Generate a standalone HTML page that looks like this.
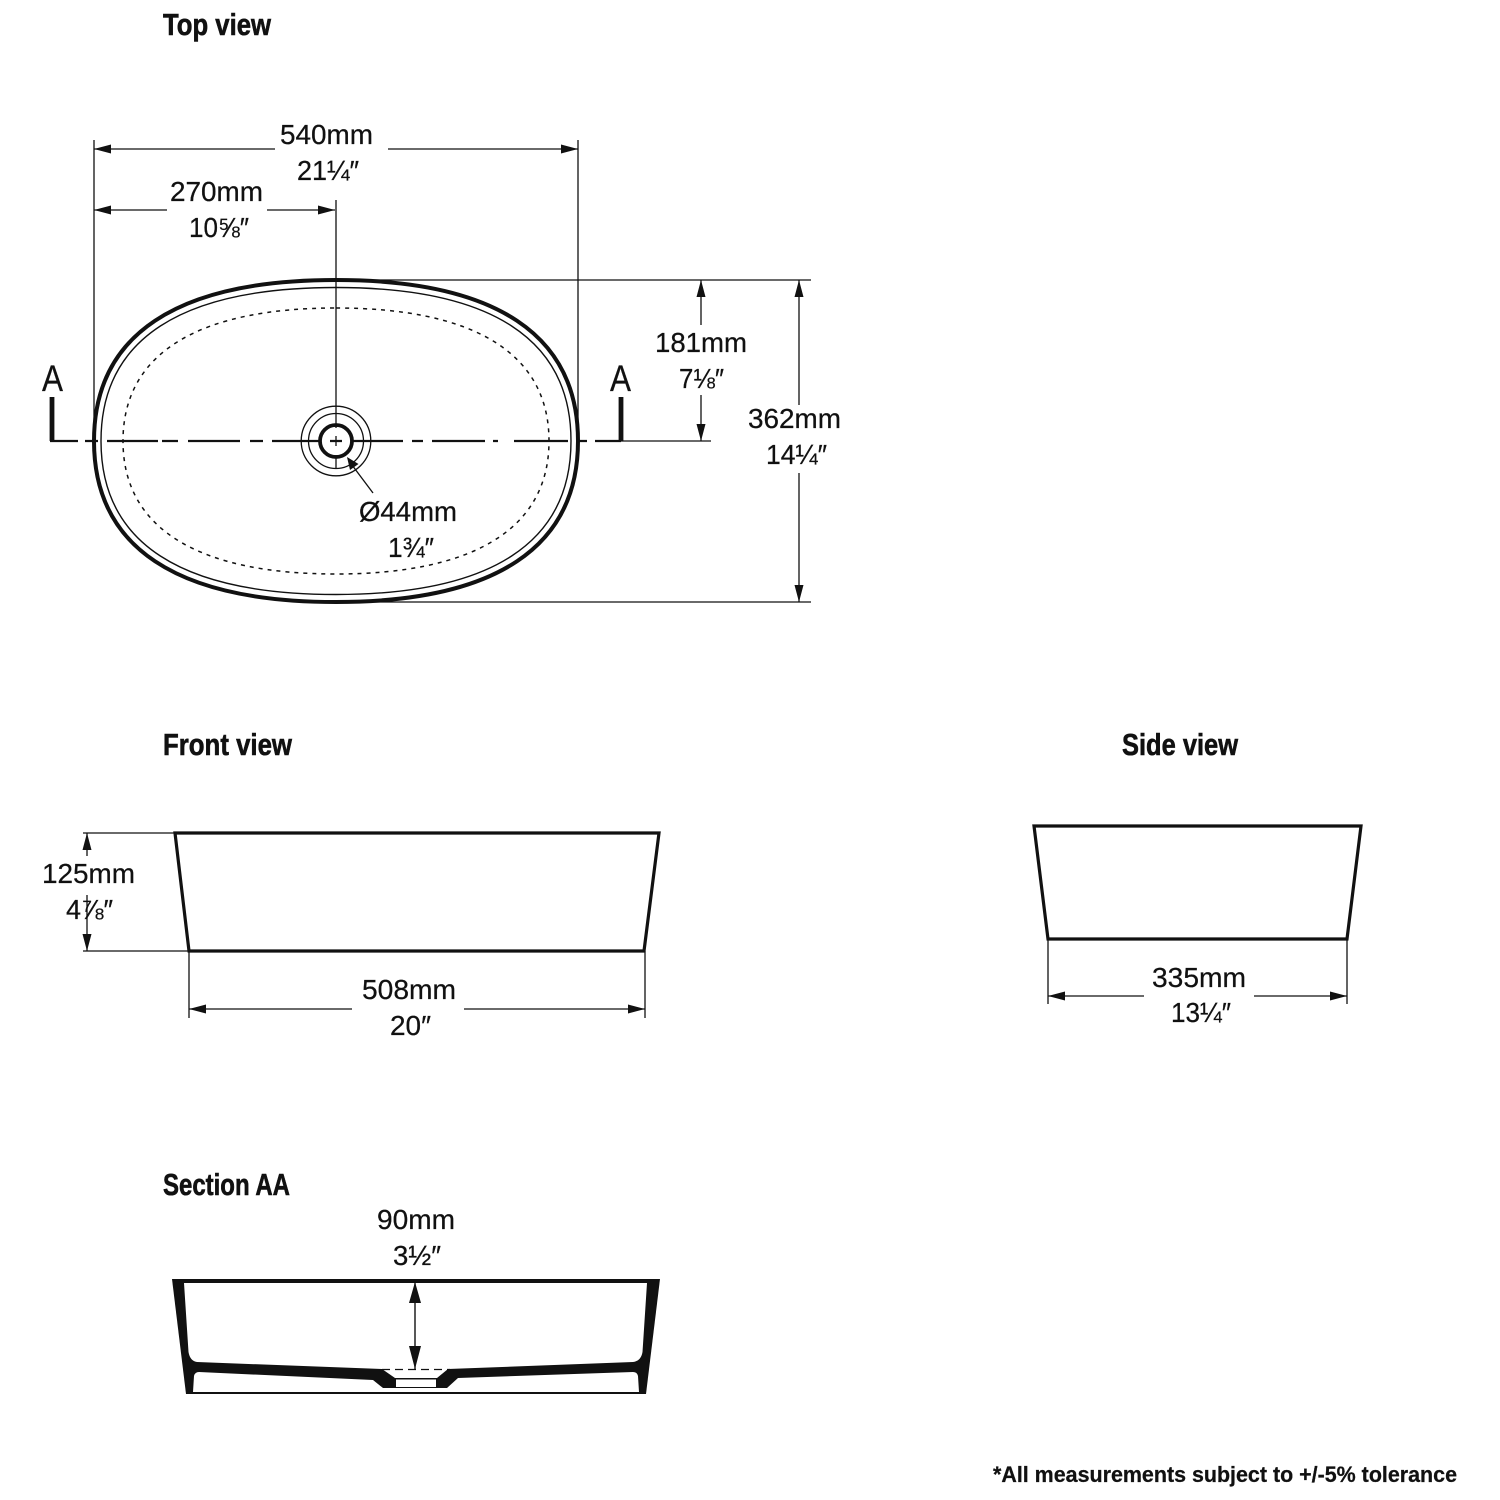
<!DOCTYPE html>
<html><head><meta charset="utf-8"><style>
html,body{margin:0;padding:0;background:#fff}
svg{display:block}
text{font-family:"Liberation Sans",sans-serif;fill:#111;font-size:28px;stroke:#111;stroke-width:.25px}
.h{font-weight:bold;font-size:31px;stroke-width:.6px}
</style></head><body>
<svg width="1500" height="1500" viewBox="0 0 1500 1500" xmlns="http://www.w3.org/2000/svg">
<rect width="1500" height="1500" fill="#fff"/>

<g fill="none" stroke="#111">
<path d="M336 280C496 280 578 335 578 441C578 547 496 602 336 602C176 602 94 547 94 441C94 335 176 280 336 280Z" stroke-width="4"/>
<path d="M336 287.500C491 287.500 571 339 571 441C571 543 491 594.500 336 594.500C181 594.500 101 543 101 441C101 339 181 287.500 336 287.500Z" stroke-width="1.400"/>
<path d="M336 308C470 308 549 351 549 441C549 531 470 574 336 574C202 574 123 531 123 441C123 351 202 308 336 308Z" stroke-width="1.500" stroke-dasharray="4 5"/>
<circle cx="336" cy="441" r="34.800" stroke-width="1.300"/>
<circle cx="336" cy="441" r="27.500" stroke-width="1.300"/>
<circle cx="336" cy="441" r="16" stroke-width="3.800"/>

<g stroke-width="1.300">
<path d="M94 140V441M578 140V441M336 200V428M336 436V446M336 455V468"/>
<path d="M336 280H811M336 602H811M621 441H711"/>
<path d="M94 149H275M388 149H578" />
<path d="M94 210H167M267 210H335"/>
<path d="M701 280V325M701 395V441M799 280V405M799 473V602"/>
<path d="M373 493L349 461"/>
</g>
<path d="M52 397V441" stroke-width="4.800"/>
<path d="M621 397V441" stroke-width="4.800"/>
<path d="M50 441H78M85 441H98M107 441H158M162 441H178M188 441H240M250 441H263M272 441H320M330 441H342M352 441H403M412 441H423M432 441H485M493 441H498M514 441H568M577 441H587M595 441H621" stroke-width="2.200"/>
</g>
<g fill="#111">
<path d="M94 149l17-4.500v9zM578 149l-17-4.500v9zM94 210l17-4.500v9zM335 210l-17-4.500v9z"/>
<path d="M701 280l-4.500 17h9zM701 441l-4.500-17h9zM799 280l-4.500 17h9zM799 602l-4.500-17h9z"/>
<path d="M347 457L350 470L358.500 464z"/>
</g>

<text x="163" y="35" class="h" textLength="108" lengthAdjust="spacingAndGlyphs">Top view</text>
<text x="280" y="144" textLength="93" lengthAdjust="spacingAndGlyphs">540mm</text>
<text x="297" y="180" textLength="62" lengthAdjust="spacingAndGlyphs">21¼″</text>
<text x="170" y="201" textLength="93" lengthAdjust="spacingAndGlyphs">270mm</text>
<text x="189" y="237" textLength="60" lengthAdjust="spacingAndGlyphs">10⅝″</text>
<text x="655" y="352" textLength="92" lengthAdjust="spacingAndGlyphs">181mm</text>
<text x="679" y="388" textLength="45" lengthAdjust="spacingAndGlyphs">7⅛″</text>
<text x="748" y="428" textLength="93" lengthAdjust="spacingAndGlyphs">362mm</text>
<text x="766" y="464" textLength="61" lengthAdjust="spacingAndGlyphs">14¼″</text>
<text x="359" y="521" textLength="98" lengthAdjust="spacingAndGlyphs">Ø44mm</text>
<text x="388" y="557" textLength="46" lengthAdjust="spacingAndGlyphs">1¾″</text>
<text x="42" y="391" style="font-size:37px" textLength="21" lengthAdjust="spacingAndGlyphs">A</text>
<text x="610" y="391" style="font-size:37px" textLength="21" lengthAdjust="spacingAndGlyphs">A</text>

<text x="163" y="755" class="h" textLength="129" lengthAdjust="spacingAndGlyphs">Front view</text>
<path d="M175 833H659L644 951H189Z" fill="none" stroke="#111" stroke-width="3.200"/>
<g fill="none" stroke="#111" stroke-width="1.300">
<path d="M83 833H175M83 951H189M87 833V856M87 895V951"/>
<path d="M189 951V1018M645 951V1018M189 1009H352M464 1009H645"/>
</g>
<g fill="#111">
<path d="M87 833l-4.500 17h9zM87 951l-4.500-17h9zM189 1009l17-4.500v9zM645 1009l-17-4.500v9z"/>
</g>
<text x="42" y="883" textLength="93" lengthAdjust="spacingAndGlyphs">125mm</text>
<text x="66" y="919" textLength="47" lengthAdjust="spacingAndGlyphs">4⅞″</text>
<text x="362" y="999" textLength="94" lengthAdjust="spacingAndGlyphs">508mm</text>
<text x="390" y="1035" textLength="41" lengthAdjust="spacingAndGlyphs">20″</text>

<text x="1122" y="755" class="h" textLength="116" lengthAdjust="spacingAndGlyphs">Side view</text>
<path d="M1034 826H1361L1347 939H1048Z" fill="none" stroke="#111" stroke-width="3.200"/>
<g fill="none" stroke="#111" stroke-width="1.300">
<path d="M1048 939V1004M1347 939V1004M1048 996H1144M1254 996H1347"/>
</g>
<path d="M1048 996l17-4.500v9zM1347 996l-17-4.500v9z" fill="#111"/>
<text x="1152" y="987" textLength="94" lengthAdjust="spacingAndGlyphs">335mm</text>
<text x="1171" y="1022" textLength="60" lengthAdjust="spacingAndGlyphs">13¼″</text>

<text x="163" y="1195" class="h" textLength="127" lengthAdjust="spacingAndGlyphs">Section AA</text>
<text x="377" y="1229" textLength="78" lengthAdjust="spacingAndGlyphs">90mm</text>
<text x="393" y="1265" textLength="48" lengthAdjust="spacingAndGlyphs">3½″</text>

<path d="M172 1279H660L646 1394H186Z" fill="#111"/>
<path d="M184 1283H647L642.500 1352Q641 1361 633 1362L448 1369L437 1378H395L382 1369L197 1362Q190 1361 188.500 1352Z" fill="#fff"/>
<path d="M193 1392L194 1376Q195 1372 199 1372L373 1380L383 1388H447L458 1378L633 1372Q637 1372 638 1376L639 1392Z" fill="#fff"/>
<path d="M395 1378H437V1388H395Z" fill="#111"/>
<path d="M396 1379.500H436V1387H396Z" fill="#fff"/>
<path d="M382 1369.500H450" stroke="#111" stroke-width="1.300" stroke-dasharray="8 5" fill="none"/>
<path d="M415 1282V1369" stroke="#111" stroke-width="1.400"/>
<path d="M415 1282L409 1303H421zM415 1369L409 1346H421z" fill="#111"/>

<text x="993" y="1482" style="font-size:22px;font-weight:bold" textLength="464" lengthAdjust="spacingAndGlyphs">*All measurements subject to +/-5% tolerance</text>
</svg>
</body></html>
